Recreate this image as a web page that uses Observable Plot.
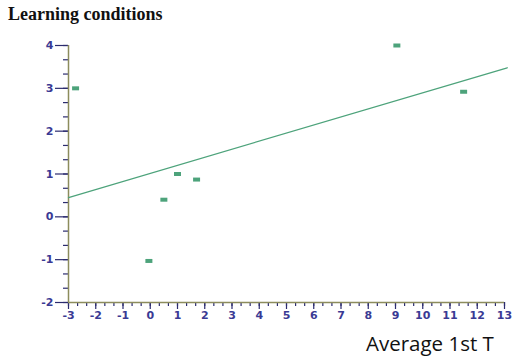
<!DOCTYPE html>
<html>
<head>
<meta charset="utf-8">
<script src="https://cdn.jsdelivr.net/npm/d3@7"></script>
<script src="https://cdn.jsdelivr.net/npm/@observablehq/plot@0.6"></script>
<style>
  html, body { margin: 0; padding: 0; background: #fff; }
  #wrap { position: relative; width: 516px; height: 356px; overflow: hidden; }
  #title { position: absolute; left: 8px; top: 4px; font: bold 18px "Liberation Serif", serif; color: #111; }
  #xlabel { position: absolute; left: 366px; top: 329px; font: 20.5px "Open Sans", sans-serif; color: #111; }
  #chart { position: absolute; left: 0; top: 0; }
</style>
</head>
<body>
<div id="wrap">
  <div id="chart"></div>
  <div id="title">Learning conditions</div>
  <div id="xlabel">Average 1st T</div>
</div>
<script>
// Data
const pointX = [-2.74, -0.05, 0.5, 1.0, 1.7, 9.05, 11.5];
const pointY = [3.0, -1.03, 0.4, 1.0, 0.87, 4.0, 2.92];
const fitX = [-3, 13.1];
const fitY = [0.45, 3.48];
const xMajorTicks = [-3, -2, -1, 0, 1, 2, 3, 4, 5, 6, 7, 8, 9, 10, 11, 12, 13];
const yMajorTicks = [-2, -1, 0, 1, 2, 3, 4];

const points = pointX.map((x, i) => ({x, y: pointY[i]}));
const fit = fitX.map((x, i) => ({x, y: fitY[i]}));
const xMinor = d3.range(xMajorTicks[0] * 3, xMajorTicks[xMajorTicks.length - 1] * 3 + 1).map(v => v / 3);
const yMinor = d3.range(yMajorTicks[0] * 3, yMajorTicks[yMajorTicks.length - 1] * 3 + 1).map(v => v / 3);

const rectSymbol = { draw(ctx) { ctx.rect(-3.5, -2, 7, 4); } };
const green = "#4da37b";
const tickColor = "#2b2b6e";
const labelColor = "#3a3a94";
const axisColor = "#8c8c5c";

const chart = Plot.plot({
  width: 516,
  height: 356,
  marginLeft: 68,
  marginRight: 12,
  marginTop: 45,
  marginBottom: 54,
  style: { background: "transparent", fontFamily: "DejaVu Sans, sans-serif" },
  x: { domain: [-3, 13] },
  y: { domain: [-2, 4] },
  marks: [
    Plot.axisX({ ticks: xMinor, tickSize: 4, text: null, label: null, stroke: tickColor, strokeWidth: 1.2 }),
    Plot.axisX({ ticks: xMajorTicks, tickSize: 7, tickPadding: 2, label: null, stroke: tickColor, strokeWidth: 1.2,
      fill: labelColor, fontSize: 11, fontWeight: "bold", tickFormat: d => String(d).replace("−", "-") }),
    Plot.axisY({ ticks: yMinor, tickSize: 5, text: null, label: null, stroke: tickColor, strokeWidth: 1.2 }),
    Plot.axisY({ ticks: yMajorTicks, tickSize: 13, tickPadding: 2, label: null, stroke: tickColor, strokeWidth: 1.2,
      fill: labelColor, fontSize: 11, fontWeight: "bold", tickFormat: d => String(d).replace("−", "-") }),
    Plot.ruleX([-3], { stroke: axisColor, strokeWidth: 1.5 }),
    Plot.ruleY([-2], { stroke: axisColor, strokeWidth: 1.5 }),
    Plot.line(fit, { x: "x", y: "y", stroke: green, strokeWidth: 1.3, clip: false }),
    Plot.dot(points, { x: "x", y: "y", symbol: rectSymbol, fill: green, stroke: "none" })
  ]
});
document.getElementById("chart").appendChild(chart);
</script>
</body>
</html>
